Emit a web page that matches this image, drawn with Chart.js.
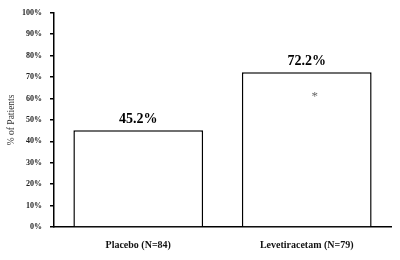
<!DOCTYPE html>
<html>
<head>
<meta charset="utf-8">
<script src="https://cdn.jsdelivr.net/npm/chart.js@4"></script>
<style>
html,body{margin:0;padding:0;background:#fff;}
#wrap{width:400px;height:260px;position:relative;}
</style>
</head>
<body>
<div id="wrap"><canvas id="c" width="400" height="260"></canvas></div>
<script>
const categories = ["Placebo (N=84)", "Levetiracetam (N=79)"];
const percentPatients = [45.2, 72.2];
const valueLabels = ["45.2%", "72.2%"];
const significanceMarks = ["", "*"];
const significanceLevel = [null, 62.5];
const yTicks = [0,10,20,30,40,50,60,70,80,90,100];

const serif = "'Liberation Serif', 'Times New Roman', serif";

const labelPlugin = {
  id: 'labels',
  afterDatasetsDraw(chart) {
    const ctx = chart.ctx;
    const meta = chart.getDatasetMeta(0);
    const ys = chart.scales.y;
    ctx.save();
    meta.data.forEach((bar, i) => {
      ctx.font = "bold 14px " + serif;
      ctx.fillStyle = '#000';
      ctx.textAlign = 'center';
      ctx.textBaseline = 'alphabetic';
      ctx.fillText(valueLabels[i], bar.x, bar.y - 7);
      if (significanceMarks[i]) {
        ctx.font = "13px " + serif;
        ctx.fillStyle = '#666';
        ctx.textBaseline = 'middle';
        ctx.fillText(significanceMarks[i], bar.x + 8, ys.getPixelForValue(significanceLevel[i]) + 3);
      }
    });
    ctx.restore();
  }
};

new Chart(document.getElementById('c'), {
  type: 'bar',
  data: {
    labels: categories,
    datasets: [{
      data: percentPatients,
      backgroundColor: '#fff',
      borderColor: '#000',
      borderWidth: 1.5,
      borderSkipped: 'bottom',
      categoryPercentage: 1.0,
      barPercentage: 0.77
    }]
  },
  options: {
    responsive: false,
    animation: false,
    devicePixelRatio: 1,
    layout: { padding: { top: 12, right: 9, bottom: 0, left: 0 } },
    plugins: { legend: { display: false }, tooltip: { enabled: false } },
    scales: {
      x: {
        grid: { display: false, drawTicks: false },
        border: { display: true, color: '#000', width: 1.5 },
        ticks: {
          color: '#111',
          padding: 12,
          font: { family: serif, size: 10, weight: 'bold' }
        },
        afterFit(s) { s.height = 33; }
      },
      y: {
        min: 0, max: 100,
        afterBuildTicks(s) { s.ticks = yTicks.map(v => ({ value: v })); },
        grid: { display: true, drawOnChartArea: false, drawTicks: true, tickLength: 4, color: '#000', lineWidth: 1.5 },
        border: { display: true, color: '#000', width: 1.5 },
        ticks: {
          color: '#222',
          padding: 8,
          font: { family: serif, size: 8, weight: 'bold' },
          callback: v => v + '%'
        },
        title: {
          display: true,
          text: '% of Patients',
          color: '#333',
          padding: { top: 6, bottom: 0 },
          font: { family: serif, size: 9.5 }
        },
        afterFit(s) { s.width = 54; }
      }
    }
  },
  plugins: [labelPlugin]
});
</script>
</body>
</html>
